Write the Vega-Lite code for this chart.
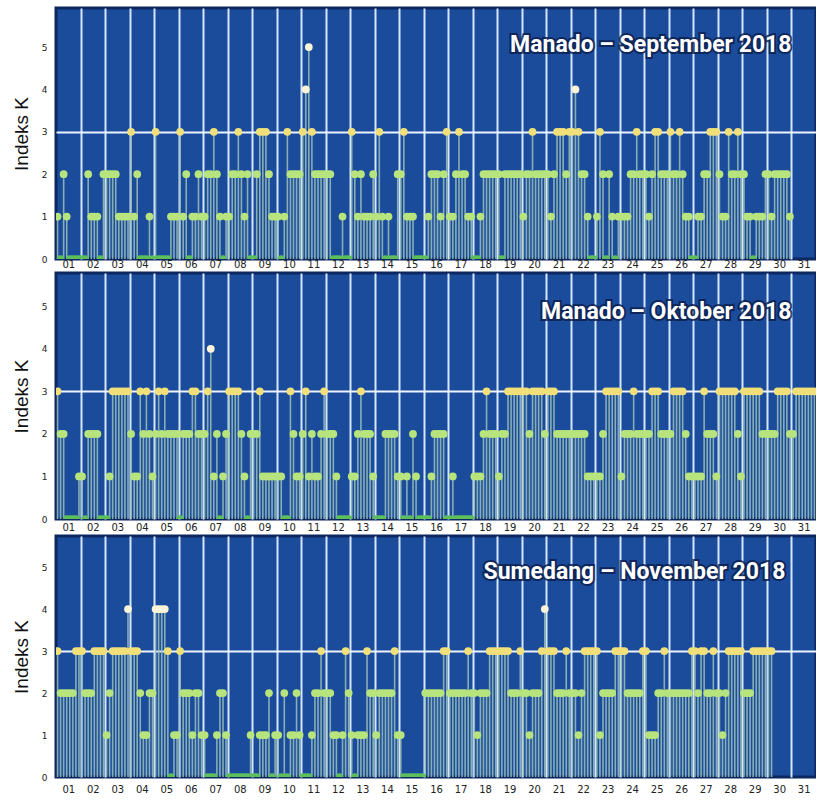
{
  "$schema": "https://vega.github.io/schema/vega-lite/v6.json",
  "padding": {"left": 10, "top": 6, "right": 0, "bottom": 0},
  "background": "white",
  "config": {
    "view": {"fill": "#1b4c9c", "stroke": "#0c2660", "strokeWidth": 3},
    "concat": {"spacing": 0},
    "axis": {"labelFont": "DejaVu Sans", "labelColor": "#222222", "ticks": false, "domain": false}
  },
  "datasets": {
    "sep": [
      {"d":1,"h":0,"k":1},{"d":1,"h":3,"k":0},{"d":1,"h":6,"k":2},{"d":1,"h":9,"k":1},{"d":1,"h":12,"k":0},{"d":1,"h":15,"k":0},{"d":1,"h":18,"k":0},{"d":1,"h":21,"k":0},
      {"d":2,"h":0,"k":0},{"d":2,"h":3,"k":0},{"d":2,"h":6,"k":2},{"d":2,"h":9,"k":1},{"d":2,"h":12,"k":1},{"d":2,"h":15,"k":1},{"d":2,"h":18,"k":0},{"d":2,"h":21,"k":2},
      {"d":3,"h":0,"k":2},{"d":3,"h":3,"k":2},{"d":3,"h":6,"k":2},{"d":3,"h":9,"k":2},{"d":3,"h":12,"k":1},{"d":3,"h":15,"k":1},{"d":3,"h":18,"k":1},{"d":3,"h":21,"k":1},
      {"d":4,"h":0,"k":3},{"d":4,"h":3,"k":1},{"d":4,"h":6,"k":2},{"d":4,"h":9,"k":0},{"d":4,"h":12,"k":0},{"d":4,"h":15,"k":0},{"d":4,"h":18,"k":1},{"d":4,"h":21,"k":0},
      {"d":5,"h":0,"k":3},{"d":5,"h":3,"k":0},{"d":5,"h":6,"k":0},{"d":5,"h":9,"k":0},{"d":5,"h":12,"k":0},{"d":5,"h":15,"k":1},{"d":5,"h":18,"k":1},{"d":5,"h":21,"k":1},
      {"d":6,"h":0,"k":3},{"d":6,"h":3,"k":1},{"d":6,"h":6,"k":2},{"d":6,"h":9,"k":0},{"d":6,"h":12,"k":1},{"d":6,"h":15,"k":1},{"d":6,"h":18,"k":2},{"d":6,"h":21,"k":1},
      {"d":7,"h":0,"k":1},{"d":7,"h":3,"k":2},{"d":7,"h":6,"k":2},{"d":7,"h":9,"k":3},{"d":7,"h":12,"k":2},{"d":7,"h":15,"k":1},{"d":7,"h":18,"k":0},{"d":7,"h":21,"k":1},
      {"d":8,"h":0,"k":1},{"d":8,"h":3,"k":2},{"d":8,"h":6,"k":2},{"d":8,"h":9,"k":3},{"d":8,"h":12,"k":2},{"d":8,"h":15,"k":1},{"d":8,"h":18,"k":2},{"d":8,"h":21,"k":0},
      {"d":9,"h":0,"k":0},{"d":9,"h":3,"k":2},{"d":9,"h":6,"k":3},{"d":9,"h":9,"k":3},{"d":9,"h":12,"k":3},{"d":9,"h":15,"k":2},{"d":9,"h":18,"k":1},{"d":9,"h":21,"k":1},
      {"d":10,"h":0,"k":1},{"d":10,"h":3,"k":0},{"d":10,"h":6,"k":1},{"d":10,"h":9,"k":3},{"d":10,"h":12,"k":2},{"d":10,"h":15,"k":2},{"d":10,"h":18,"k":2},{"d":10,"h":21,"k":2},
      {"d":11,"h":0,"k":3},{"d":11,"h":3,"k":4},{"d":11,"h":6,"k":5},{"d":11,"h":9,"k":3},{"d":11,"h":12,"k":2},{"d":11,"h":15,"k":2},{"d":11,"h":18,"k":2},{"d":11,"h":21,"k":2},
      {"d":12,"h":0,"k":2},{"d":12,"h":3,"k":2},{"d":12,"h":6,"k":0},{"d":12,"h":9,"k":0},{"d":12,"h":12,"k":0},{"d":12,"h":15,"k":1},{"d":12,"h":18,"k":0},{"d":12,"h":21,"k":0},
      {"d":13,"h":0,"k":3},{"d":13,"h":3,"k":2},{"d":13,"h":6,"k":1},{"d":13,"h":9,"k":2},{"d":13,"h":12,"k":1},{"d":13,"h":15,"k":1},{"d":13,"h":18,"k":1},{"d":13,"h":21,"k":2},
      {"d":14,"h":0,"k":1},{"d":14,"h":3,"k":3},{"d":14,"h":6,"k":1},{"d":14,"h":9,"k":0},{"d":14,"h":12,"k":1},{"d":14,"h":15,"k":0},{"d":14,"h":18,"k":0},{"d":14,"h":21,"k":2},
      {"d":15,"h":0,"k":2},{"d":15,"h":3,"k":3},{"d":15,"h":6,"k":1},{"d":15,"h":9,"k":1},{"d":15,"h":12,"k":1},{"d":15,"h":15,"k":0},{"d":15,"h":18,"k":0},{"d":15,"h":21,"k":0},
      {"d":16,"h":0,"k":0},{"d":16,"h":3,"k":1},{"d":16,"h":6,"k":2},{"d":16,"h":9,"k":2},{"d":16,"h":12,"k":2},{"d":16,"h":15,"k":1},{"d":16,"h":18,"k":2},{"d":16,"h":21,"k":3},
      {"d":17,"h":0,"k":1},{"d":17,"h":3,"k":1},{"d":17,"h":6,"k":2},{"d":17,"h":9,"k":3},{"d":17,"h":12,"k":2},{"d":17,"h":15,"k":2},{"d":17,"h":18,"k":1},{"d":17,"h":21,"k":1},
      {"d":18,"h":0,"k":0},{"d":18,"h":3,"k":0},{"d":18,"h":6,"k":1},{"d":18,"h":9,"k":2},{"d":18,"h":12,"k":2},{"d":18,"h":15,"k":2},{"d":18,"h":18,"k":2},{"d":18,"h":21,"k":2},
      {"d":19,"h":0,"k":2},{"d":19,"h":3,"k":0},{"d":19,"h":6,"k":2},{"d":19,"h":9,"k":2},{"d":19,"h":12,"k":2},{"d":19,"h":15,"k":2},{"d":19,"h":18,"k":2},{"d":19,"h":21,"k":2},
      {"d":20,"h":0,"k":1},{"d":20,"h":3,"k":2},{"d":20,"h":6,"k":2},{"d":20,"h":9,"k":3},{"d":20,"h":12,"k":2},{"d":20,"h":15,"k":2},{"d":20,"h":18,"k":2},{"d":20,"h":21,"k":2},
      {"d":21,"h":0,"k":2},{"d":21,"h":3,"k":1},{"d":21,"h":6,"k":2},{"d":21,"h":9,"k":3},{"d":21,"h":12,"k":3},{"d":21,"h":15,"k":3},{"d":21,"h":18,"k":2},{"d":21,"h":21,"k":3},
      {"d":22,"h":0,"k":3},{"d":22,"h":3,"k":4},{"d":22,"h":6,"k":3},{"d":22,"h":9,"k":2},{"d":22,"h":12,"k":2},{"d":22,"h":15,"k":1},{"d":22,"h":18,"k":0},{"d":22,"h":21,"k":0},
      {"d":23,"h":0,"k":1},{"d":23,"h":3,"k":3},{"d":23,"h":6,"k":2},{"d":23,"h":9,"k":0},{"d":23,"h":12,"k":2},{"d":23,"h":15,"k":1},{"d":23,"h":18,"k":0},{"d":23,"h":21,"k":1},
      {"d":24,"h":0,"k":1},{"d":24,"h":3,"k":1},{"d":24,"h":6,"k":1},{"d":24,"h":9,"k":2},{"d":24,"h":12,"k":2},{"d":24,"h":15,"k":3},{"d":24,"h":18,"k":2},{"d":24,"h":21,"k":2},
      {"d":25,"h":0,"k":2},{"d":25,"h":3,"k":1},{"d":25,"h":6,"k":2},{"d":25,"h":9,"k":3},{"d":25,"h":12,"k":3},{"d":25,"h":15,"k":2},{"d":25,"h":18,"k":2},{"d":25,"h":21,"k":2},
      {"d":26,"h":0,"k":3},{"d":26,"h":3,"k":2},{"d":26,"h":6,"k":2},{"d":26,"h":9,"k":3},{"d":26,"h":12,"k":2},{"d":26,"h":15,"k":1},{"d":26,"h":18,"k":1},{"d":26,"h":21,"k":0},
      {"d":27,"h":0,"k":0},{"d":27,"h":3,"k":1},{"d":27,"h":6,"k":1},{"d":27,"h":9,"k":2},{"d":27,"h":12,"k":2},{"d":27,"h":15,"k":3},{"d":27,"h":18,"k":3},{"d":27,"h":21,"k":3},
      {"d":28,"h":0,"k":2},{"d":28,"h":3,"k":1},{"d":28,"h":6,"k":1},{"d":28,"h":9,"k":3},{"d":28,"h":12,"k":2},{"d":28,"h":15,"k":2},{"d":28,"h":18,"k":3},{"d":28,"h":21,"k":2},
      {"d":29,"h":0,"k":2},{"d":29,"h":3,"k":1},{"d":29,"h":6,"k":1},{"d":29,"h":9,"k":0},{"d":29,"h":12,"k":1},{"d":29,"h":15,"k":1},{"d":29,"h":18,"k":1},{"d":29,"h":21,"k":2},
      {"d":30,"h":0,"k":2},{"d":30,"h":3,"k":1},{"d":30,"h":6,"k":2},{"d":30,"h":9,"k":2},{"d":30,"h":12,"k":2},{"d":30,"h":15,"k":2},{"d":30,"h":18,"k":2},{"d":30,"h":21,"k":1}
    ],
    "okt": [
      {"d":1,"h":0,"k":3},{"d":1,"h":3,"k":2},{"d":1,"h":6,"k":2},{"d":1,"h":9,"k":0},{"d":1,"h":12,"k":0},{"d":1,"h":15,"k":0},{"d":1,"h":18,"k":0},{"d":1,"h":21,"k":1},
      {"d":2,"h":0,"k":1},{"d":2,"h":3,"k":0},{"d":2,"h":6,"k":2},{"d":2,"h":9,"k":2},{"d":2,"h":12,"k":2},{"d":2,"h":15,"k":2},{"d":2,"h":18,"k":0},{"d":2,"h":21,"k":0},
      {"d":3,"h":0,"k":0},{"d":3,"h":3,"k":1},{"d":3,"h":6,"k":3},{"d":3,"h":9,"k":3},{"d":3,"h":12,"k":3},{"d":3,"h":15,"k":3},{"d":3,"h":18,"k":3},{"d":3,"h":21,"k":3},
      {"d":4,"h":0,"k":2},{"d":4,"h":3,"k":1},{"d":4,"h":6,"k":1},{"d":4,"h":9,"k":3},{"d":4,"h":12,"k":2},{"d":4,"h":15,"k":3},{"d":4,"h":18,"k":2},{"d":4,"h":21,"k":1},
      {"d":5,"h":0,"k":2},{"d":5,"h":3,"k":3},{"d":5,"h":6,"k":2},{"d":5,"h":9,"k":3},{"d":5,"h":12,"k":2},{"d":5,"h":15,"k":2},{"d":5,"h":18,"k":2},{"d":5,"h":21,"k":2},
      {"d":6,"h":0,"k":0},{"d":6,"h":3,"k":2},{"d":6,"h":6,"k":2},{"d":6,"h":9,"k":2},{"d":6,"h":12,"k":3},{"d":6,"h":15,"k":3},{"d":6,"h":18,"k":2},{"d":6,"h":21,"k":2},
      {"d":7,"h":0,"k":2},{"d":7,"h":3,"k":3},{"d":7,"h":6,"k":4},{"d":7,"h":9,"k":1},{"d":7,"h":12,"k":2},{"d":7,"h":15,"k":0},{"d":7,"h":18,"k":1},{"d":7,"h":21,"k":2},
      {"d":8,"h":0,"k":3},{"d":8,"h":3,"k":3},{"d":8,"h":6,"k":3},{"d":8,"h":9,"k":3},{"d":8,"h":12,"k":2},{"d":8,"h":15,"k":1},{"d":8,"h":18,"k":0},{"d":8,"h":21,"k":2},
      {"d":9,"h":0,"k":2},{"d":9,"h":3,"k":2},{"d":9,"h":6,"k":3},{"d":9,"h":9,"k":1},{"d":9,"h":12,"k":1},{"d":9,"h":15,"k":1},{"d":9,"h":18,"k":1},{"d":9,"h":21,"k":1},
      {"d":10,"h":0,"k":1},{"d":10,"h":3,"k":1},{"d":10,"h":6,"k":0},{"d":10,"h":9,"k":0},{"d":10,"h":12,"k":3},{"d":10,"h":15,"k":2},{"d":10,"h":18,"k":1},{"d":10,"h":21,"k":1},
      {"d":11,"h":0,"k":2},{"d":11,"h":3,"k":3},{"d":11,"h":6,"k":1},{"d":11,"h":9,"k":2},{"d":11,"h":12,"k":1},{"d":11,"h":15,"k":1},{"d":11,"h":18,"k":2},{"d":11,"h":21,"k":3},
      {"d":12,"h":0,"k":2},{"d":12,"h":3,"k":2},{"d":12,"h":6,"k":2},{"d":12,"h":9,"k":1},{"d":12,"h":12,"k":0},{"d":12,"h":15,"k":0},{"d":12,"h":18,"k":0},{"d":12,"h":21,"k":0},
      {"d":13,"h":0,"k":1},{"d":13,"h":3,"k":1},{"d":13,"h":6,"k":2},{"d":13,"h":9,"k":3},{"d":13,"h":12,"k":2},{"d":13,"h":15,"k":2},{"d":13,"h":18,"k":2},{"d":13,"h":21,"k":1},
      {"d":14,"h":0,"k":0},{"d":14,"h":3,"k":0},{"d":14,"h":6,"k":0},{"d":14,"h":9,"k":2},{"d":14,"h":12,"k":2},{"d":14,"h":15,"k":2},{"d":14,"h":18,"k":2},{"d":14,"h":21,"k":1},
      {"d":15,"h":0,"k":1},{"d":15,"h":3,"k":0},{"d":15,"h":6,"k":1},{"d":15,"h":9,"k":0},{"d":15,"h":12,"k":2},{"d":15,"h":15,"k":1},{"d":15,"h":18,"k":0},{"d":15,"h":21,"k":0},
      {"d":16,"h":0,"k":0},{"d":16,"h":3,"k":0},{"d":16,"h":6,"k":1},{"d":16,"h":9,"k":2},{"d":16,"h":12,"k":2},{"d":16,"h":15,"k":2},{"d":16,"h":18,"k":2},{"d":16,"h":21,"k":0},
      {"d":17,"h":0,"k":0},{"d":17,"h":3,"k":1},{"d":17,"h":6,"k":0},{"d":17,"h":9,"k":0},{"d":17,"h":12,"k":0},{"d":17,"h":15,"k":0},{"d":17,"h":18,"k":0},{"d":17,"h":21,"k":0},
      {"d":18,"h":0,"k":1},{"d":18,"h":3,"k":1},{"d":18,"h":6,"k":1},{"d":18,"h":9,"k":2},{"d":18,"h":12,"k":3},{"d":18,"h":15,"k":2},{"d":18,"h":18,"k":2},{"d":18,"h":21,"k":2},
      {"d":19,"h":0,"k":1},{"d":19,"h":3,"k":2},{"d":19,"h":6,"k":2},{"d":19,"h":9,"k":3},{"d":19,"h":12,"k":3},{"d":19,"h":15,"k":3},{"d":19,"h":18,"k":3},{"d":19,"h":21,"k":3},
      {"d":20,"h":0,"k":3},{"d":20,"h":3,"k":3},{"d":20,"h":6,"k":2},{"d":20,"h":9,"k":3},{"d":20,"h":12,"k":3},{"d":20,"h":15,"k":3},{"d":20,"h":18,"k":3},{"d":20,"h":21,"k":2},
      {"d":21,"h":0,"k":3},{"d":21,"h":3,"k":3},{"d":21,"h":6,"k":3},{"d":21,"h":9,"k":2},{"d":21,"h":12,"k":2},{"d":21,"h":15,"k":2},{"d":21,"h":18,"k":2},{"d":21,"h":21,"k":2},
      {"d":22,"h":0,"k":2},{"d":22,"h":3,"k":2},{"d":22,"h":6,"k":2},{"d":22,"h":9,"k":2},{"d":22,"h":12,"k":2},{"d":22,"h":15,"k":1},{"d":22,"h":18,"k":1},{"d":22,"h":21,"k":1},
      {"d":23,"h":0,"k":1},{"d":23,"h":3,"k":1},{"d":23,"h":6,"k":2},{"d":23,"h":9,"k":3},{"d":23,"h":12,"k":3},{"d":23,"h":15,"k":3},{"d":23,"h":18,"k":3},{"d":23,"h":21,"k":3},
      {"d":24,"h":0,"k":1},{"d":24,"h":3,"k":2},{"d":24,"h":6,"k":2},{"d":24,"h":9,"k":2},{"d":24,"h":12,"k":3},{"d":24,"h":15,"k":2},{"d":24,"h":18,"k":2},{"d":24,"h":21,"k":2},
      {"d":25,"h":0,"k":2},{"d":25,"h":3,"k":2},{"d":25,"h":6,"k":3},{"d":25,"h":9,"k":3},{"d":25,"h":12,"k":3},{"d":25,"h":15,"k":2},{"d":25,"h":18,"k":2},{"d":25,"h":21,"k":2},
      {"d":26,"h":0,"k":2},{"d":26,"h":3,"k":3},{"d":26,"h":6,"k":3},{"d":26,"h":9,"k":3},{"d":26,"h":12,"k":3},{"d":26,"h":15,"k":2},{"d":26,"h":18,"k":1},{"d":26,"h":21,"k":1},
      {"d":27,"h":0,"k":1},{"d":27,"h":3,"k":1},{"d":27,"h":6,"k":1},{"d":27,"h":9,"k":3},{"d":27,"h":12,"k":2},{"d":27,"h":15,"k":2},{"d":27,"h":18,"k":2},{"d":27,"h":21,"k":1},
      {"d":28,"h":0,"k":3},{"d":28,"h":3,"k":3},{"d":28,"h":6,"k":3},{"d":28,"h":9,"k":3},{"d":28,"h":12,"k":3},{"d":28,"h":15,"k":3},{"d":28,"h":18,"k":2},{"d":28,"h":21,"k":1},
      {"d":29,"h":0,"k":3},{"d":29,"h":3,"k":3},{"d":29,"h":6,"k":3},{"d":29,"h":9,"k":3},{"d":29,"h":12,"k":3},{"d":29,"h":15,"k":3},{"d":29,"h":18,"k":2},{"d":29,"h":21,"k":2},
      {"d":30,"h":0,"k":2},{"d":30,"h":3,"k":2},{"d":30,"h":6,"k":2},{"d":30,"h":9,"k":3},{"d":30,"h":12,"k":3},{"d":30,"h":15,"k":3},{"d":30,"h":18,"k":3},{"d":30,"h":21,"k":2},
      {"d":31,"h":0,"k":2},{"d":31,"h":3,"k":3},{"d":31,"h":6,"k":3},{"d":31,"h":9,"k":3},{"d":31,"h":12,"k":3},{"d":31,"h":15,"k":3},{"d":31,"h":18,"k":3},{"d":31,"h":21,"k":3}
    ],
    "nov": [
      {"d":1,"h":0,"k":3},{"d":1,"h":3,"k":2},{"d":1,"h":6,"k":2},{"d":1,"h":9,"k":2},{"d":1,"h":12,"k":2},{"d":1,"h":15,"k":2},{"d":1,"h":18,"k":3},{"d":1,"h":21,"k":3},
      {"d":2,"h":0,"k":3},{"d":2,"h":3,"k":2},{"d":2,"h":6,"k":2},{"d":2,"h":9,"k":2},{"d":2,"h":12,"k":3},{"d":2,"h":15,"k":3},{"d":2,"h":18,"k":3},{"d":2,"h":21,"k":3},
      {"d":3,"h":0,"k":1},{"d":3,"h":3,"k":2},{"d":3,"h":6,"k":3},{"d":3,"h":9,"k":3},{"d":3,"h":12,"k":3},{"d":3,"h":15,"k":3},{"d":3,"h":18,"k":3},{"d":3,"h":21,"k":4},
      {"d":4,"h":0,"k":3},{"d":4,"h":3,"k":3},{"d":4,"h":6,"k":3},{"d":4,"h":9,"k":2},{"d":4,"h":12,"k":1},{"d":4,"h":15,"k":1},{"d":4,"h":18,"k":2},{"d":4,"h":21,"k":2},
      {"d":5,"h":0,"k":4},{"d":5,"h":3,"k":4},{"d":5,"h":6,"k":4},{"d":5,"h":9,"k":4},{"d":5,"h":12,"k":3},{"d":5,"h":15,"k":0},{"d":5,"h":18,"k":1},{"d":5,"h":21,"k":1},
      {"d":6,"h":0,"k":3},{"d":6,"h":3,"k":2},{"d":6,"h":6,"k":2},{"d":6,"h":9,"k":2},{"d":6,"h":12,"k":1},{"d":6,"h":15,"k":2},{"d":6,"h":18,"k":2},{"d":6,"h":21,"k":1},
      {"d":7,"h":0,"k":1},{"d":7,"h":3,"k":0},{"d":7,"h":6,"k":0},{"d":7,"h":9,"k":0},{"d":7,"h":12,"k":1},{"d":7,"h":15,"k":2},{"d":7,"h":18,"k":2},{"d":7,"h":21,"k":1},
      {"d":8,"h":0,"k":0},{"d":8,"h":3,"k":0},{"d":8,"h":6,"k":0},{"d":8,"h":9,"k":0},{"d":8,"h":12,"k":0},{"d":8,"h":15,"k":0},{"d":8,"h":18,"k":0},{"d":8,"h":21,"k":1},
      {"d":9,"h":0,"k":0},{"d":9,"h":3,"k":0},{"d":9,"h":6,"k":1},{"d":9,"h":9,"k":1},{"d":9,"h":12,"k":1},{"d":9,"h":15,"k":2},{"d":9,"h":18,"k":0},{"d":9,"h":21,"k":1},
      {"d":10,"h":0,"k":1},{"d":10,"h":3,"k":0},{"d":10,"h":6,"k":2},{"d":10,"h":9,"k":0},{"d":10,"h":12,"k":1},{"d":10,"h":15,"k":1},{"d":10,"h":18,"k":2},{"d":10,"h":21,"k":1},
      {"d":11,"h":0,"k":0},{"d":11,"h":3,"k":0},{"d":11,"h":6,"k":0},{"d":11,"h":9,"k":1},{"d":11,"h":12,"k":2},{"d":11,"h":15,"k":2},{"d":11,"h":18,"k":3},{"d":11,"h":21,"k":2},
      {"d":12,"h":0,"k":2},{"d":12,"h":3,"k":2},{"d":12,"h":6,"k":1},{"d":12,"h":9,"k":1},{"d":12,"h":12,"k":0},{"d":12,"h":15,"k":1},{"d":12,"h":18,"k":3},{"d":12,"h":21,"k":2},
      {"d":13,"h":0,"k":1},{"d":13,"h":3,"k":0},{"d":13,"h":6,"k":1},{"d":13,"h":9,"k":1},{"d":13,"h":12,"k":1},{"d":13,"h":15,"k":3},{"d":13,"h":18,"k":2},{"d":13,"h":21,"k":2},
      {"d":14,"h":0,"k":1},{"d":14,"h":3,"k":2},{"d":14,"h":6,"k":2},{"d":14,"h":9,"k":2},{"d":14,"h":12,"k":2},{"d":14,"h":15,"k":2},{"d":14,"h":18,"k":3},{"d":14,"h":21,"k":1},
      {"d":15,"h":0,"k":1},{"d":15,"h":3,"k":0},{"d":15,"h":6,"k":0},{"d":15,"h":9,"k":0},{"d":15,"h":12,"k":0},{"d":15,"h":15,"k":0},{"d":15,"h":18,"k":0},{"d":15,"h":21,"k":0},
      {"d":16,"h":0,"k":2},{"d":16,"h":3,"k":2},{"d":16,"h":6,"k":2},{"d":16,"h":9,"k":2},{"d":16,"h":12,"k":2},{"d":16,"h":15,"k":2},{"d":16,"h":18,"k":3},{"d":16,"h":21,"k":3},
      {"d":17,"h":0,"k":2},{"d":17,"h":3,"k":2},{"d":17,"h":6,"k":2},{"d":17,"h":9,"k":2},{"d":17,"h":12,"k":2},{"d":17,"h":15,"k":2},{"d":17,"h":18,"k":3},{"d":17,"h":21,"k":2},
      {"d":18,"h":0,"k":2},{"d":18,"h":3,"k":1},{"d":18,"h":6,"k":2},{"d":18,"h":9,"k":2},{"d":18,"h":12,"k":2},{"d":18,"h":15,"k":3},{"d":18,"h":18,"k":3},{"d":18,"h":21,"k":3},
      {"d":19,"h":0,"k":3},{"d":19,"h":3,"k":3},{"d":19,"h":6,"k":3},{"d":19,"h":9,"k":3},{"d":19,"h":12,"k":2},{"d":19,"h":15,"k":2},{"d":19,"h":18,"k":2},{"d":19,"h":21,"k":3},
      {"d":20,"h":0,"k":2},{"d":20,"h":3,"k":2},{"d":20,"h":6,"k":1},{"d":20,"h":9,"k":2},{"d":20,"h":12,"k":2},{"d":20,"h":15,"k":2},{"d":20,"h":18,"k":3},{"d":20,"h":21,"k":4},
      {"d":21,"h":0,"k":3},{"d":21,"h":3,"k":3},{"d":21,"h":6,"k":3},{"d":21,"h":9,"k":2},{"d":21,"h":12,"k":2},{"d":21,"h":15,"k":2},{"d":21,"h":18,"k":3},{"d":21,"h":21,"k":2},
      {"d":22,"h":0,"k":2},{"d":22,"h":3,"k":2},{"d":22,"h":6,"k":1},{"d":22,"h":9,"k":2},{"d":22,"h":12,"k":3},{"d":22,"h":15,"k":3},{"d":22,"h":18,"k":3},{"d":22,"h":21,"k":3},
      {"d":23,"h":0,"k":3},{"d":23,"h":3,"k":1},{"d":23,"h":6,"k":2},{"d":23,"h":9,"k":2},{"d":23,"h":12,"k":2},{"d":23,"h":15,"k":2},{"d":23,"h":18,"k":3},{"d":23,"h":21,"k":3},
      {"d":24,"h":0,"k":3},{"d":24,"h":3,"k":3},{"d":24,"h":6,"k":2},{"d":24,"h":9,"k":2},{"d":24,"h":12,"k":2},{"d":24,"h":15,"k":2},{"d":24,"h":18,"k":2},{"d":24,"h":21,"k":3},
      {"d":25,"h":0,"k":3},{"d":25,"h":3,"k":1},{"d":25,"h":6,"k":1},{"d":25,"h":9,"k":1},{"d":25,"h":12,"k":2},{"d":25,"h":15,"k":2},{"d":25,"h":18,"k":3},{"d":25,"h":21,"k":2},
      {"d":26,"h":0,"k":2},{"d":26,"h":3,"k":2},{"d":26,"h":6,"k":2},{"d":26,"h":9,"k":2},{"d":26,"h":12,"k":2},{"d":26,"h":15,"k":2},{"d":26,"h":18,"k":2},{"d":26,"h":21,"k":3},
      {"d":27,"h":0,"k":3},{"d":27,"h":3,"k":2},{"d":27,"h":6,"k":3},{"d":27,"h":9,"k":3},{"d":27,"h":12,"k":2},{"d":27,"h":15,"k":2},{"d":27,"h":18,"k":3},{"d":27,"h":21,"k":2},
      {"d":28,"h":0,"k":2},{"d":28,"h":3,"k":1},{"d":28,"h":6,"k":2},{"d":28,"h":9,"k":3},{"d":28,"h":12,"k":3},{"d":28,"h":15,"k":3},{"d":28,"h":18,"k":3},{"d":28,"h":21,"k":3},
      {"d":29,"h":0,"k":2},{"d":29,"h":3,"k":2},{"d":29,"h":6,"k":2},{"d":29,"h":9,"k":3},{"d":29,"h":12,"k":3},{"d":29,"h":15,"k":3},{"d":29,"h":18,"k":3},{"d":29,"h":21,"k":3},
      {"d":30,"h":0,"k":3},{"d":30,"h":3,"k":3}
    ]
  },
  "vconcat": [
    {
      "width": 760, "height": 251,
      "data": {"name": "sep"},
      "transform": [{"calculate": "datum.d - 1 + (datum.h + 1.5) / 24", "as": "t"}],
      "layer": [
        {"mark": {"type": "rule", "color": "#94b9b6", "strokeWidth": 1.6, "opacity": 0.9},
         "encoding": {
           "x": {"field": "t", "type": "quantitative", "scale": {"domain": [0, 31], "nice": false, "zero": false},
             "axis": {"values": [0,1,2,3,4,5,6,7,8,9,10,11,12,13,14,15,16,17,18,19,20,21,22,23,24,25,26,27,28,29,30,31], "tickCount": 100, "grid": true, "gridColor": "#d4e7ff", "gridWidth": 2, "gridOpacity": {"condition": {"test": "datum.value > 0 && datum.value < 31", "value": 1}, "value": 0}, "labelExpr": "datum.value < 31 ? (datum.value < 9 ? '0' : '') + (datum.value + 1) : ''", "labelOffset": 12.25, "labelFlush": false, "labelOverlap": false, "labelFontSize": 10, "labelPadding": 0, "title": null}},
           "y": {"field": "k", "type": "quantitative", "scale": {"domain": [0, 5.92], "nice": false},
             "axis": {"values": [0,1,2,3,4,5], "tickCount": 20, "format": "d", "grid": true, "gridColor": "#eef4ff", "gridWidth": 2, "gridOpacity": {"condition": {"test": "datum.value === 3", "value": 1}, "value": 0}, "labelFontSize": 9, "labelPadding": 9, "title": "Indeks K", "titleFont": "Liberation Sans", "titleFontSize": 19, "titleFontWeight": "normal", "titleColor": "#111111", "titlePadding": 10}},
           "y2": {"datum": 0}}},
        {"mark": {"type": "point", "filled": true, "shape": "circle", "size": 60, "opacity": 1, "clip": true},
         "encoding": {"x": {"field": "t", "type": "quantitative"}, "y": {"field": "k", "type": "quantitative"},
           "color": {"condition": [{"test": "datum.k >= 4", "value": "#fbf4d6"}, {"test": "datum.k == 3", "value": "#f1e07a"}, {"test": "datum.k >= 1", "value": "#b7e47d"}], "value": "#5cbf5c"}}},
        {"data": {"values": [{"label": "Manado – September 2018"}]},
         "mark": {"type": "text", "align": "right", "baseline": "middle", "font": "Roboto", "fontWeight": "bold", "fontSize": 23, "stroke": "#0b1d4a", "strokeWidth": 4, "fill": "#0b1d4a", "opacity": 0.8},
         "encoding": {"x": {"datum": 30.0}, "y": {"datum": 5.05}, "text": {"field": "label"}}},
        {"data": {"values": [{"label": "Manado – September 2018"}]},
         "mark": {"type": "text", "align": "right", "baseline": "middle", "font": "Roboto", "fontWeight": "bold", "fontSize": 23, "fill": "#ffffff"},
         "encoding": {"x": {"datum": 30.0}, "y": {"datum": 5.05}, "text": {"field": "label"}}}
      ]
    },
    {
      "width": 760, "height": 246,
      "data": {"name": "okt"},
      "transform": [{"calculate": "datum.d - 1 + (datum.h + 1.5) / 24", "as": "t"}],
      "layer": [
        {"mark": {"type": "rule", "color": "#94b9b6", "strokeWidth": 1.6, "opacity": 0.9},
         "encoding": {
           "x": {"field": "t", "type": "quantitative", "scale": {"domain": [0, 31], "nice": false, "zero": false},
             "axis": {"values": [0,1,2,3,4,5,6,7,8,9,10,11,12,13,14,15,16,17,18,19,20,21,22,23,24,25,26,27,28,29,30,31], "tickCount": 100, "grid": true, "gridColor": "#d4e7ff", "gridWidth": 2, "gridOpacity": {"condition": {"test": "datum.value > 0 && datum.value < 31", "value": 1}, "value": 0}, "labelExpr": "datum.value < 31 ? (datum.value < 9 ? '0' : '') + (datum.value + 1) : ''", "labelOffset": 12.25, "labelFlush": false, "labelOverlap": false, "labelFontSize": 10, "labelPadding": 3, "title": null}},
           "y": {"field": "k", "type": "quantitative", "scale": {"domain": [0, 5.78], "nice": false},
             "axis": {"values": [0,1,2,3,4,5], "tickCount": 20, "format": "d", "grid": true, "gridColor": "#eef4ff", "gridWidth": 2, "gridOpacity": {"condition": {"test": "datum.value === 3", "value": 1}, "value": 0}, "labelFontSize": 9, "labelPadding": 9, "title": "Indeks K", "titleFont": "Liberation Sans", "titleFontSize": 19, "titleFontWeight": "normal", "titleColor": "#111111", "titlePadding": 10}},
           "y2": {"datum": 0}}},
        {"mark": {"type": "point", "filled": true, "shape": "circle", "size": 60, "opacity": 1, "clip": true},
         "encoding": {"x": {"field": "t", "type": "quantitative"}, "y": {"field": "k", "type": "quantitative"},
           "color": {"condition": [{"test": "datum.k >= 4", "value": "#fbf4d6"}, {"test": "datum.k == 3", "value": "#f1e07a"}, {"test": "datum.k >= 1", "value": "#b7e47d"}], "value": "#5cbf5c"}}},
        {"data": {"values": [{"label": "Manado – Oktober 2018"}]},
         "mark": {"type": "text", "align": "right", "baseline": "middle", "font": "Roboto", "fontWeight": "bold", "fontSize": 23, "stroke": "#0b1d4a", "strokeWidth": 4, "fill": "#0b1d4a", "opacity": 0.8},
         "encoding": {"x": {"datum": 30.0}, "y": {"datum": 4.86}, "text": {"field": "label"}}},
        {"data": {"values": [{"label": "Manado – Oktober 2018"}]},
         "mark": {"type": "text", "align": "right", "baseline": "middle", "font": "Roboto", "fontWeight": "bold", "fontSize": 23, "fill": "#ffffff"},
         "encoding": {"x": {"datum": 30.0}, "y": {"datum": 4.86}, "text": {"field": "label"}}}
      ]
    },
    {
      "width": 760, "height": 241,
      "data": {"name": "nov"},
      "transform": [{"calculate": "datum.d - 1 + (datum.h + 1.5) / 24", "as": "t"}],
      "layer": [
        {"mark": {"type": "rule", "color": "#94b9b6", "strokeWidth": 1.6, "opacity": 0.9},
         "encoding": {
           "x": {"field": "t", "type": "quantitative", "scale": {"domain": [0, 31], "nice": false, "zero": false},
             "axis": {"values": [0,1,2,3,4,5,6,7,8,9,10,11,12,13,14,15,16,17,18,19,20,21,22,23,24,25,26,27,28,29,30,31], "tickCount": 100, "grid": true, "gridColor": "#d4e7ff", "gridWidth": 2, "gridOpacity": {"condition": {"test": "datum.value > 0 && datum.value < 31", "value": 1}, "value": 0}, "labelExpr": "datum.value < 31 ? (datum.value < 9 ? '0' : '') + (datum.value + 1) : ''", "labelOffset": 12.25, "labelFlush": false, "labelOverlap": false, "labelFontSize": 10, "labelPadding": 7, "title": null}},
           "y": {"field": "k", "type": "quantitative", "scale": {"domain": [0, 5.74], "nice": false},
             "axis": {"values": [0,1,2,3,4,5], "tickCount": 20, "format": "d", "grid": true, "gridColor": "#eef4ff", "gridWidth": 2, "gridOpacity": {"condition": {"test": "datum.value === 3", "value": 1}, "value": 0}, "labelFontSize": 9, "labelPadding": 9, "title": "Indeks K", "titleFont": "Liberation Sans", "titleFontSize": 19, "titleFontWeight": "normal", "titleColor": "#111111", "titlePadding": 10}},
           "y2": {"datum": 0}}},
        {"mark": {"type": "point", "filled": true, "shape": "circle", "size": 60, "opacity": 1, "clip": true},
         "encoding": {"x": {"field": "t", "type": "quantitative"}, "y": {"field": "k", "type": "quantitative"},
           "color": {"condition": [{"test": "datum.k >= 4", "value": "#fbf4d6"}, {"test": "datum.k == 3", "value": "#f1e07a"}, {"test": "datum.k >= 1", "value": "#b7e47d"}], "value": "#5cbf5c"}}},
        {"data": {"values": [{"label": "Sumedang – November 2018"}]},
         "mark": {"type": "text", "align": "right", "baseline": "middle", "font": "Roboto", "fontWeight": "bold", "fontSize": 23, "stroke": "#0b1d4a", "strokeWidth": 4, "fill": "#0b1d4a", "opacity": 0.8},
         "encoding": {"x": {"datum": 29.75}, "y": {"datum": 4.88}, "text": {"field": "label"}}},
        {"data": {"values": [{"label": "Sumedang – November 2018"}]},
         "mark": {"type": "text", "align": "right", "baseline": "middle", "font": "Roboto", "fontWeight": "bold", "fontSize": 23, "fill": "#ffffff"},
         "encoding": {"x": {"datum": 29.75}, "y": {"datum": 4.88}, "text": {"field": "label"}}}
      ]
    }
  ]
}
